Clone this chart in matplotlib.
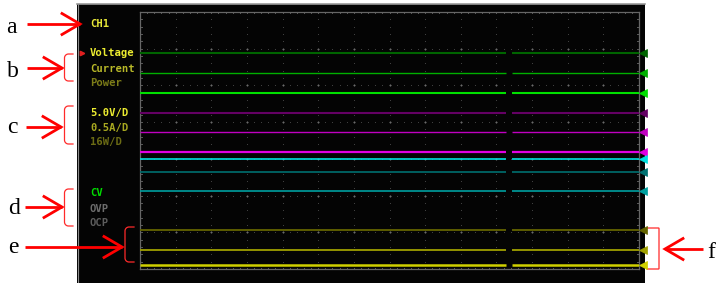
import numpy as np
import matplotlib
matplotlib.use("Agg")
import matplotlib.pyplot as plt
from matplotlib.patches import Rectangle

# screen grid: 14 x 7 divisions
n_hdiv = 14
n_vdiv = 7

# trace levels (divisions from the bottom of the grid) and colours
trace_levels = [5.88, 5.34, 4.79, 4.25, 3.73, 3.19, 3.00, 2.64, 2.12, 1.06, 0.52, 0.11]
trace_colors = ['#006400', '#00b000', '#00e000', '#640064', '#c000c0', '#e000e0',
                '#00e0e0', '#007070', '#00a0a0', '#646400', '#a0a000', '#d0d000']
trace_widths = [1.5, 1.0, 1.5, 1.5, 1.0, 1.6, 1.2, 1.2, 1.2, 1.3, 1.3, 1.8]
gap_start, gap_end = 10.27, 10.44  # short break in the traces

# menu texts on the left of the screen
menu_labels = ['CH1', 'Voltage', 'Current', 'Power', '5.0V/D', '0.5A/D', '16W/D', 'CV', 'OVP', 'OCP']
menu_y = [24, 53, 68.5, 83, 113, 127.5, 142, 193.5, 208.5, 223]
menu_colors = ['#e8e838', '#ecec30', '#b8b828', '#7c7c18', '#ecec30', '#a8a820', '#6c6c14',
               '#00dc00', '#6c6c6c', '#5c5c5c']

# annotation letters
letters = ['a', 'b', 'c', 'd', 'e', 'f']
letter_x = [6, 7, 7, 8, 8, 707]
letter_base = [33, 77, 133, 214, 253, 258]

W, H = 722, 283
fig = plt.figure(figsize=(W / 100, H / 100), dpi=100)
fig.patch.set_facecolor('white')

ax = fig.add_axes([0, 0, 1, 1])
ax.set_xlim(0, W)
ax.set_ylim(H, 0)
ax.axis('off')

# black screen
ax.add_patch(Rectangle((77, 3.5), 568, 280, facecolor='#040404', edgecolor='none', zorder=1))
ax.plot([77, 645], [4, 4], color='#9a9a9a', lw=1.2, zorder=2)
ax.plot([77.5, 77.5], [4, 283], color='#8a8a8a', lw=0.8, zorder=2)

# menu texts
for lab, y, c in zip(menu_labels, menu_y, menu_colors):
    ax.text(90, y, lab, color=c, fontsize=7.6, family='DejaVu Sans Mono', weight='bold',
            ha='left', va='center', zorder=3)
ax.plot([81.5], [53], marker='>', color='#e02020', markersize=3.2, zorder=3)

# letters
for s, x, y in zip(letters, letter_x, letter_base):
    ax.text(x, y, s, fontsize=17, family='Liberation Serif', color='black',
            ha='left', va='baseline')

red = '#ff0000'


def arrow(x0, x1, y, L=18, hw=10.5):
    s = 1 if x1 > x0 else -1
    ax.plot([x0, x1], [y, y], color=red, lw=2.0, solid_capstyle='butt', zorder=5)
    ax.plot([x1 - s * L, x1, x1 - s * L], [y - hw, y, y + hw], color=red, lw=2.0,
            solid_joinstyle='miter', zorder=5)


def bracket(xv, xt, y0, y1, r=4):
    s = 1 if xt > xv else -1
    t = np.linspace(0, np.pi / 2, 12)
    top = np.c_[xv + s * r - s * r * np.sin(t), y0 + r - r * np.cos(t)]
    bot = np.c_[xv + s * r - s * r * np.cos(t), y1 - r + r * np.sin(t)]
    pts = np.vstack([[[xt, y0]], top, bot, [[xt, y1]]])
    ax.plot(pts[:, 0], pts[:, 1], color='#ff2a2a', lw=0.9, zorder=5)


arrow(27, 80, 24)
arrow(27, 62, 68)
arrow(26, 61, 127)
arrow(25, 62, 207)
arrow(25, 122, 247)
arrow(703, 665, 249)

bracket(64.5, 73, 54, 81)
bracket(64.5, 73, 106, 144)
bracket(64.5, 73, 189, 226)
bracket(125, 134, 227, 262)
bracket(659, 647, 228, 269, r=0.5)

# grid axes
gx0, gx1, gy0, gy1 = 140, 639, 12, 269
g = fig.add_axes([gx0 / W, (H - gy1) / H, (gx1 - gx0) / W, (gy1 - gy0) / H])
g.set_xlim(0, n_hdiv)
g.set_ylim(0, n_vdiv)
g.patch.set_alpha(0)
g.set_xticks([])
g.set_yticks([])
for sp in g.spines.values():
    sp.set_color('#666666')
    sp.set_linewidth(0.9)

# dotted division lines
for i in range(1, n_hdiv):
    yy = np.arange(0, n_vdiv * 5 + 1) / 5
    g.scatter(np.full_like(yy, i), yy, s=0.6, color='#4a4a4a', lw=0, zorder=1)
for j in range(1, n_vdiv):
    xx = np.arange(0, n_hdiv * 5 + 1) / 5
    g.scatter(xx, np.full_like(xx, j), s=0.6, color='#4a4a4a', lw=0, zorder=1)
ii, jj = np.meshgrid(np.arange(1, n_hdiv), np.arange(1, n_vdiv))
g.scatter(ii.ravel(), jj.ravel(), s=4, marker='+', color='#6a6a6a', lw=0.8, zorder=1)

# border ticks
xt = np.arange(1, n_hdiv * 5) / 5
yt = np.arange(1, n_vdiv * 5) / 5
for x in xt:
    g.plot([x, x], [n_vdiv, n_vdiv - 0.03], color='#5a5a5a', lw=0.7)
    g.plot([x, x], [0, 0.03], color='#5a5a5a', lw=0.7)
for y in yt:
    g.plot([0, 0.05], [y, y], color='#5a5a5a', lw=0.7)
    g.plot([n_hdiv, n_hdiv - 0.05], [y, y], color='#5a5a5a', lw=0.7)

# traces
for lv, c, w in zip(trace_levels, trace_colors, trace_widths):
    g.plot([0, gap_start], [lv, lv], color=c, lw=w, solid_capstyle='butt', zorder=3)
    g.plot([gap_end, n_hdiv], [lv, lv], color=c, lw=w, solid_capstyle='butt', zorder=3)
    g.plot([n_hdiv + 0.1], [lv], marker='<', color=c, markersize=5.5, markeredgewidth=0.5,
           clip_on=False, zorder=4)

fig.savefig('out.png', dpi=100, facecolor='white')
